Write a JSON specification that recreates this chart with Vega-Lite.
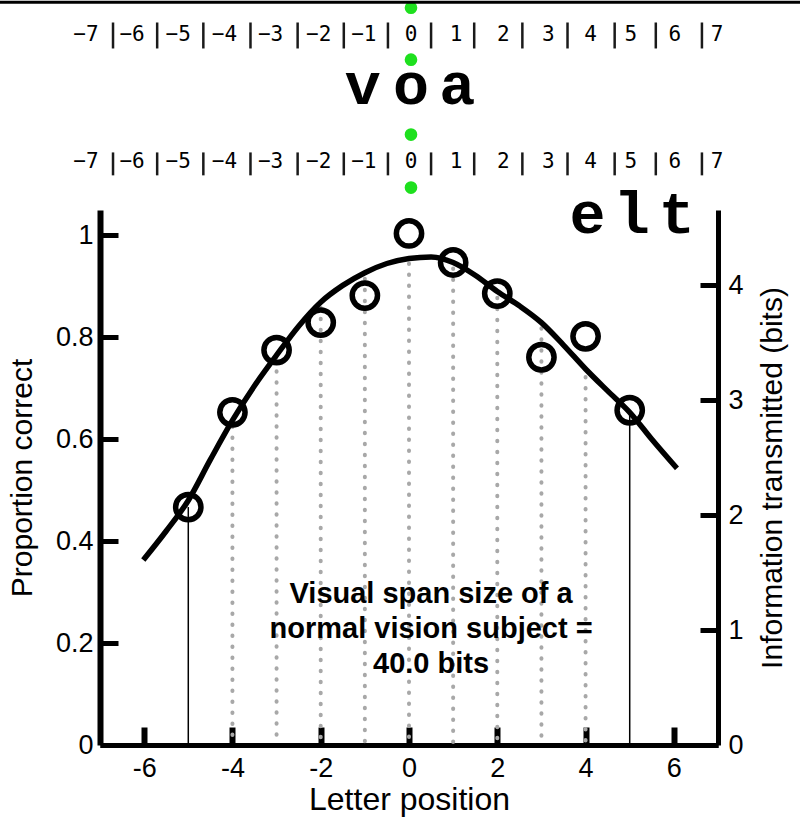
{
  "$schema": "https://vega.github.io/schema/vega-lite/v6.json",
  "width": 618,
  "height": 535,
  "autosize": {"type": "none"},
  "padding": {"left": 100, "top": 210, "right": 82, "bottom": 78},
  "background": "white",
  "config": {
    "view": {"stroke": null},
    "font": "Liberation Sans",
    "axis": {"grid": false, "labelColor": "black", "titleColor": "black", "domainColor": "black", "tickColor": "black", "titleFontWeight": "normal", "labelFont": "Liberation Sans", "titleFont": "Liberation Sans"}
  },
  "datasets": {
    "curve": [
      {"x": -6.02, "p": 0.363}, {"x": -5.5, "p": 0.42}, {"x": -5, "p": 0.48}, {"x": -4.5, "p": 0.56},
      {"x": -4, "p": 0.637}, {"x": -3.5, "p": 0.705}, {"x": -3, "p": 0.765}, {"x": -2.5, "p": 0.822},
      {"x": -2, "p": 0.869}, {"x": -1.5, "p": 0.902}, {"x": -1, "p": 0.927}, {"x": -0.5, "p": 0.945},
      {"x": 0, "p": 0.955}, {"x": 0.5, "p": 0.958}, {"x": 1, "p": 0.947}, {"x": 1.5, "p": 0.922},
      {"x": 2, "p": 0.89}, {"x": 2.5, "p": 0.862}, {"x": 3, "p": 0.829}, {"x": 3.5, "p": 0.785},
      {"x": 4, "p": 0.738}, {"x": 4.5, "p": 0.695}, {"x": 5, "p": 0.653}, {"x": 5.5, "p": 0.6},
      {"x": 6.07, "p": 0.543}
    ],
    "points": [
      {"x": -5, "p": 0.467}, {"x": -4, "p": 0.653}, {"x": -3, "p": 0.775}, {"x": -2, "p": 0.829},
      {"x": -1, "p": 0.882}, {"x": 0, "p": 1.004}, {"x": 1, "p": 0.947}, {"x": 2, "p": 0.886},
      {"x": 3, "p": 0.761}, {"x": 4, "p": 0.802}, {"x": 5, "p": 0.657}
    ],
    "dotted": [
      {"x": -4, "top": 0.625}, {"x": -3, "top": 0.755}, {"x": -2, "top": 0.858}, {"x": -1, "top": 0.915},
      {"x": 0, "top": 0.945}, {"x": 1, "top": 0.935}, {"x": 2, "top": 0.878}, {"x": 3, "top": 0.818},
      {"x": 4, "top": 0.722}
    ],
    "solid": [{"x": -5, "top": 0.467}, {"x": 5, "top": 0.655}],
    "rulerNums": [
      {"pos": -7.318, "label": "−7", "row": 1.382}, {"pos": -6.273, "label": "−6", "row": 1.382},
      {"pos": -5.227, "label": "−5", "row": 1.382}, {"pos": -4.182, "label": "−4", "row": 1.382},
      {"pos": -3.136, "label": "−3", "row": 1.382}, {"pos": -2.045, "label": "−2", "row": 1.382},
      {"pos": -1.023, "label": "−1", "row": 1.382}, {"pos": 0.045, "label": "0", "row": 1.382},
      {"pos": 1.068, "label": "1", "row": 1.382}, {"pos": 2.136, "label": "2", "row": 1.382},
      {"pos": 3.159, "label": "3", "row": 1.382}, {"pos": 4.114, "label": "4", "row": 1.382},
      {"pos": 5.023, "label": "5", "row": 1.382}, {"pos": 6.023, "label": "6", "row": 1.382},
      {"pos": 6.977, "label": "7", "row": 1.382},
      {"pos": -7.318, "label": "−7", "row": 1.133}, {"pos": -6.273, "label": "−6", "row": 1.133},
      {"pos": -5.227, "label": "−5", "row": 1.133}, {"pos": -4.182, "label": "−4", "row": 1.133},
      {"pos": -3.136, "label": "−3", "row": 1.133}, {"pos": -2.045, "label": "−2", "row": 1.133},
      {"pos": -1.023, "label": "−1", "row": 1.133}, {"pos": 0.045, "label": "0", "row": 1.133},
      {"pos": 1.068, "label": "1", "row": 1.133}, {"pos": 2.136, "label": "2", "row": 1.133},
      {"pos": 3.159, "label": "3", "row": 1.133}, {"pos": 4.114, "label": "4", "row": 1.133},
      {"pos": 5.023, "label": "5", "row": 1.133}, {"pos": 6.023, "label": "6", "row": 1.133},
      {"pos": 6.977, "label": "7", "row": 1.133}
    ],
    "rulerBars": [
      {"pos": -6.705, "y1": 1.418, "y2": 1.367}, {"pos": -5.705, "y1": 1.418, "y2": 1.367},
      {"pos": -4.659, "y1": 1.418, "y2": 1.367}, {"pos": -3.591, "y1": 1.418, "y2": 1.367},
      {"pos": -2.523, "y1": 1.418, "y2": 1.367}, {"pos": -1.477, "y1": 1.418, "y2": 1.367},
      {"pos": -0.477, "y1": 1.418, "y2": 1.367}, {"pos": 0.5, "y1": 1.418, "y2": 1.367},
      {"pos": 1.477, "y1": 1.418, "y2": 1.367}, {"pos": 2.568, "y1": 1.418, "y2": 1.367},
      {"pos": 3.591, "y1": 1.418, "y2": 1.367}, {"pos": 4.659, "y1": 1.418, "y2": 1.367},
      {"pos": 5.591, "y1": 1.418, "y2": 1.367}, {"pos": 6.636, "y1": 1.418, "y2": 1.367},
      {"pos": -6.705, "y1": 1.163, "y2": 1.118}, {"pos": -5.705, "y1": 1.163, "y2": 1.118},
      {"pos": -4.659, "y1": 1.163, "y2": 1.118}, {"pos": -3.591, "y1": 1.163, "y2": 1.118},
      {"pos": -2.523, "y1": 1.163, "y2": 1.118}, {"pos": -1.477, "y1": 1.163, "y2": 1.118},
      {"pos": -0.477, "y1": 1.163, "y2": 1.118}, {"pos": 0.5, "y1": 1.163, "y2": 1.118},
      {"pos": 1.477, "y1": 1.163, "y2": 1.118}, {"pos": 2.568, "y1": 1.163, "y2": 1.118},
      {"pos": 3.591, "y1": 1.163, "y2": 1.118}, {"pos": 4.659, "y1": 1.163, "y2": 1.118},
      {"pos": 5.591, "y1": 1.163, "y2": 1.118}, {"pos": 6.636, "y1": 1.163, "y2": 1.118}
    ],
    "greenDots": [{"pos": 0.045, "y": 1.447}, {"pos": 0.045, "y": 1.345}, {"pos": 0.045, "y": 1.198}, {"pos": 0.045, "y": 1.094}],
    "letters": [
      {"pos": -1.045, "y": 1.259, "ch": "v"}, {"pos": 0.045, "y": 1.259, "ch": "o"}, {"pos": 1.091, "y": 1.259, "ch": "a"},
      {"pos": 4.045, "y": 1.004, "ch": "e"}, {"pos": 5.045, "y": 1.004, "ch": "l"}, {"pos": 6.068, "y": 1.004, "ch": "t"}
    ],
    "note": [{"pos": 0.5, "y": 0.278, "text": ["Visual span size of a", "normal vision subject =", "40.0 bits"]}],
    "border": [{"x1": -9.32, "x2": 8.87, "y": 1.4578}],
    "bitsAxis": [{"b": 0, "p": 0}, {"b": 4.652, "p": 1.049}]
  },
  "layer": [
    {
      "data": {"name": "dotted"},
      "mark": {"type": "rule", "color": "#a8a8a8", "strokeWidth": 4, "strokeDash": [0.5, 10.5], "strokeCap": "round"},
      "encoding": {
        "x": {"field": "x", "type": "quantitative", "scale": {"domain": [-7, 7], "nice": false, "zero": false},
          "axis": {"values": [-6, -4, -2, 0, 2, 4, 6], "labelExpr": "replace(datum.label, '−', '-')", "domainWidth": 5, "tickWidth": 6, "tickSize": -18, "labelFontSize": 27, "labelPadding": 28, "title": "Letter position", "titleFontSize": 32, "titleBaseline": "alphabetic", "titleY": 64}},
        "y": {"field": "top", "type": "quantitative", "scale": {"domain": [0, 1.05], "nice": false},
          "axis": {"orient": "left", "values": [0, 0.2, 0.4, 0.6, 0.8, 1], "format": "~g", "domainWidth": 6, "tickWidth": 5, "tickSize": -18, "labelFontSize": 27, "labelPadding": 25, "title": "Proportion correct", "titleFontSize": 30, "titleX": -78, "titleBaseline": "middle"}},
        "y2": {"datum": 0}
      }
    },
    {
      "data": {"name": "bitsAxis"},
      "mark": {"type": "point", "opacity": 0},
      "encoding": {
        "x": {"datum": 0, "type": "quantitative"},
        "y": {"field": "p", "type": "quantitative",
          "axis": {"orient": "right", "values": [0, 0.22549, 0.45098, 0.67647, 0.90196], "labelExpr": "format(datum.value / 0.22549, '.0f')", "domainWidth": 5, "tickWidth": 5, "tickSize": -18, "labelFontSize": 27, "labelPadding": 28, "title": "Information transmitted (bits)", "titleFontSize": 30, "titleAngle": 270, "titleX": 54, "titleBaseline": "middle"}}
      }
    },
    {
      "data": {"name": "solid"},
      "mark": {"type": "rule", "color": "black", "strokeWidth": 1.5},
      "encoding": {
        "x": {"field": "x", "type": "quantitative"},
        "y": {"field": "top", "type": "quantitative", "axis": null},
        "y2": {"datum": 0}
      }
    },
    {
      "data": {"name": "curve"},
      "mark": {"type": "line", "color": "black", "strokeWidth": 5.5, "interpolate": "monotone"},
      "encoding": {
        "x": {"field": "x", "type": "quantitative"},
        "y": {"field": "p", "type": "quantitative", "axis": null}
      }
    },
    {
      "data": {"name": "points"},
      "mark": {"type": "point", "shape": "circle", "filled": false, "color": "black", "strokeWidth": 5.5, "size": 640, "opacity": 1},
      "encoding": {
        "x": {"field": "x", "type": "quantitative"},
        "y": {"field": "p", "type": "quantitative", "axis": null}
      }
    },
    {
      "data": {"name": "rulerNums"},
      "mark": {"type": "text", "font": "DejaVu Sans Mono", "fontSize": 21, "color": "black", "align": "center", "baseline": "alphabetic"},
      "encoding": {
        "x": {"field": "pos", "type": "quantitative"},
        "y": {"field": "row", "type": "quantitative", "axis": null},
        "text": {"field": "label"}
      }
    },
    {
      "data": {"name": "rulerBars"},
      "mark": {"type": "rule", "color": "#1a1a1a", "strokeWidth": 2.5},
      "encoding": {
        "x": {"field": "pos", "type": "quantitative"},
        "y": {"field": "y1", "type": "quantitative", "axis": null},
        "y2": {"field": "y2"}
      }
    },
    {
      "data": {"name": "greenDots"},
      "mark": {"type": "point", "shape": "circle", "filled": true, "color": "#1ee01e", "size": 160, "opacity": 1},
      "encoding": {
        "x": {"field": "pos", "type": "quantitative"},
        "y": {"field": "y", "type": "quantitative", "axis": null}
      }
    },
    {
      "data": {"name": "letters"},
      "mark": {"type": "text", "font": "Liberation Mono", "fontWeight": "bold", "fontSize": 60, "color": "black", "align": "center", "baseline": "alphabetic"},
      "encoding": {
        "x": {"field": "pos", "type": "quantitative"},
        "y": {"field": "y", "type": "quantitative", "axis": null},
        "text": {"field": "ch"}
      }
    },
    {
      "data": {"name": "note"},
      "mark": {"type": "text", "font": "Liberation Sans", "fontWeight": "bold", "fontSize": 29, "color": "black", "align": "center", "baseline": "alphabetic", "lineHeight": 35},
      "encoding": {
        "x": {"field": "pos", "type": "quantitative"},
        "y": {"field": "y", "type": "quantitative", "axis": null},
        "text": {"field": "text"}
      }
    },
    {
      "data": {"name": "border"},
      "mark": {"type": "rule", "color": "black", "strokeWidth": 3},
      "encoding": {
        "x": {"field": "x1", "type": "quantitative"},
        "x2": {"field": "x2"},
        "y": {"field": "y", "type": "quantitative", "axis": null}
      }
    }
  ],
  "resolve": {"axis": {"y": "independent"}}
}
